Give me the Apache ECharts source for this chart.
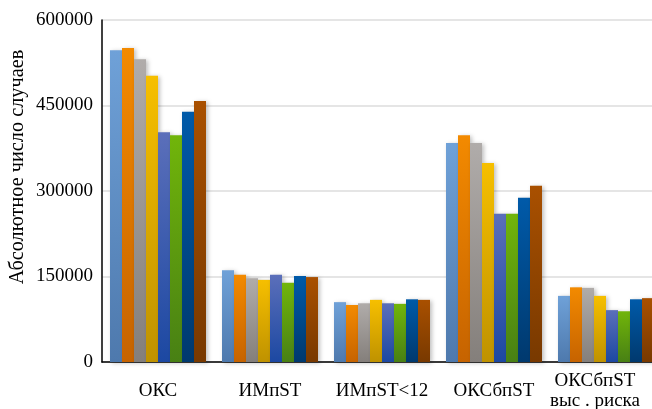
<!DOCTYPE html>
<html><head><meta charset="utf-8">
<script src="https://cdn.jsdelivr.net/npm/echarts@6/dist/echarts.min.js"></script>
<style>html,body{margin:0;padding:0;background:#fff}#c{width:652px;height:409px}</style>
</head><body><div id="c"></div>
<script>
var categories = ['ОКС', 'ИМпST', 'ИМпST<12', 'ОКСбпST', 'ОКСбпST\nвыс . риска'];
var s1 = [547000, 161000, 105000, 384000, 116000];
var s2 = [551000, 153000, 100000, 398000, 131000];
var s3 = [531000, 147000, 103000, 384000, 130000];
var s4 = [502000, 144000, 109000, 349000, 116000];
var s5 = [403000, 153000, 103000, 260000, 91000];
var s6 = [398000, 139000, 102000, 260000, 89000];
var s7 = [439000, 151000, 110000, 288000, 110000];
var s8 = [458000, 149000, 109000, 309000, 112000];
var yTicks = [0, 150000, 300000, 450000, 600000];
var yName = 'Абсолютное число случаев';

var allSeries = [s1, s2, s3, s4, s5, s6, s7, s8];
var colors = [
  ['#6fa1d8', '#4e79ad'],
  ['#f38a00', '#c66300'],
  ['#b0acaa', '#847f7b'],
  ['#f6bf00', '#bf9200'],
  ['#5b6fba', '#1c48a2'],
  ['#71b50a', '#488014'],
  ['#005aa9', '#00396e'],
  ['#a95000', '#783900']
];
var font = '"Liberation Serif", "DejaVu Serif", serif';
var chart = echarts.init(document.getElementById('c'), null, {renderer: 'canvas'});
chart.setOption({
  animation: false,
  backgroundColor: '#fff',
  grid: {left: 102, width: 560, top: 20, height: 342, containLabel: false, outerBoundsMode: 'none'},
  xAxis: {
    type: 'category', data: categories,
    axisLine: {lineStyle: {color: '#000', width: 1.5}},
    axisTick: {show: false},
    axisLabel: {
      color: '#000', fontFamily: font, fontSize: 19, margin: 29,
      verticalAlign: 'middle', lineHeight: 20, interval: 0,
      formatter: function (v, i) {
        if (i === 4) { return '{a|ОКСбпST}\n{a|выс . риска}'; }
        return v;
      },
      rich: {a: {fontFamily: font, fontSize: 19, color: '#000', lineHeight: 20, padding: [0, 22, 0, 0]}}
    }
  },
  yAxis: {
    type: 'value', min: yTicks[0], max: yTicks[yTicks.length - 1], interval: 150000,
    axisLine: {show: true, lineStyle: {color: '#000', width: 1.5}},
    axisTick: {show: false},
    splitLine: {lineStyle: {color: '#dcdcdc', width: 1.5}},
    axisLabel: {color: '#000', fontFamily: font, fontSize: 19, margin: 9,
      formatter: function (v) { return String(v); }}
  },
  graphic: [{
    type: 'text', x: 18, y: 167, rotation: Math.PI / 2,
    style: {text: yName, fontFamily: font, fontSize: 20.3, fill: '#000', align: 'center', verticalAlign: 'middle'}
  }],
  series: allSeries.map(function (d, i) {
    return {
      type: 'bar', data: d, barWidth: 12, barGap: '0%',
      itemStyle: {
        color: new echarts.graphic.LinearGradient(0, 0, 0, 1, [
          {offset: 0, color: colors[i][0]}, {offset: 1, color: colors[i][1]}
        ]),
        shadowColor: 'rgba(0,0,0,0.25)', shadowBlur: 4, shadowOffsetX: 2, shadowOffsetY: 1
      }
    };
  })
});
</script></body></html>
